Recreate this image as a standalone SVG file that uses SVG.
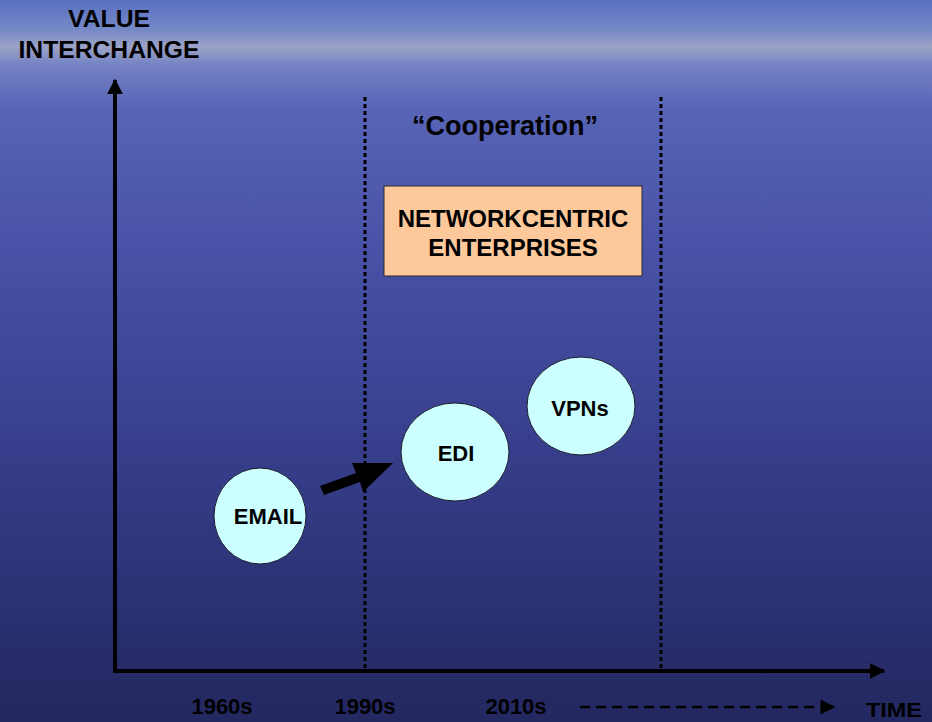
<svg xmlns="http://www.w3.org/2000/svg" width="932" height="722" viewBox="0 0 932 722">
<defs>
<linearGradient id="bg" x1="0" y1="0" x2="0" y2="1">
<stop offset="0" stop-color="#5a70c2"/>
<stop offset="0.04" stop-color="#7488c6"/>
<stop offset="0.065" stop-color="#9ca3c6"/>
<stop offset="0.09" stop-color="#7482c4"/>
<stop offset="0.15" stop-color="#5864b6"/>
<stop offset="0.35" stop-color="#4752a6"/>
<stop offset="0.6" stop-color="#38408e"/>
<stop offset="0.85" stop-color="#2a3070"/>
<stop offset="1" stop-color="#242860"/>
</linearGradient>
<marker id="ah" viewBox="0 0 10 10" refX="9" refY="5" markerWidth="4" markerHeight="4" orient="auto" markerUnits="strokeWidth">
<path d="M0,0 L10,5 L0,10 z" fill="#000"/>
</marker>
<marker id="ahs" viewBox="0 0 10 10" refX="9" refY="5" markerWidth="7" markerHeight="6" orient="auto" markerUnits="strokeWidth">
<path d="M0,0 L10,5 L0,10 z" fill="#000"/>
</marker>
<style>
.t{font-family:"Liberation Sans",Arial,sans-serif;font-weight:bold;fill:#000;text-anchor:middle}
.c{fill:#ccffff;stroke:#1a1a2a;stroke-width:1}
.dot{stroke:#000;stroke-width:3;stroke-dasharray:4 3;fill:none}
</style>
</defs>
<rect width="932" height="722" fill="url(#bg)"/>
<g id="labels">
<text class="t" x="109" y="27" font-size="24" textLength="82" lengthAdjust="spacingAndGlyphs">VALUE</text>
<text class="t" x="109" y="58" font-size="24" textLength="181" lengthAdjust="spacingAndGlyphs">INTERCHANGE</text>
<text class="t" x="505" y="135" font-size="27">“Cooperation”</text>
<text class="t" x="222" y="714" font-size="22">1960s</text>
<text class="t" x="365" y="714" font-size="22">1990s</text>
<text class="t" x="516" y="714" font-size="22">2010s</text>
<text class="t" x="894" y="717" font-size="21" textLength="56" lengthAdjust="spacingAndGlyphs">TIME</text>
</g>
<g id="connectors">
<line x1="115" y1="672" x2="115" y2="80" stroke="#000" stroke-width="4" marker-end="url(#ah)"/>
<line x1="113" y1="671" x2="884" y2="671" stroke="#000" stroke-width="4" marker-end="url(#ah)"/>
<line class="dot" x1="365" y1="97" x2="365" y2="669"/>
<line class="dot" x1="661" y1="97" x2="661" y2="669"/>
<line x1="580" y1="707" x2="834" y2="707" stroke="#000" stroke-width="2.5" stroke-dasharray="10 6" marker-end="url(#ahs)"/>
<polygon points="320,486 356,473 352,463 393,463 363,492 360,482 324,495" fill="#000"/>
</g>
<g id="networkcentric">
<rect x="384" y="186" width="258" height="90" fill="#fdc99b" stroke="#2a2a2a" stroke-width="1"/>
<text class="t" x="513" y="227" font-size="24">NETWORKCENTRIC</text>
<text class="t" x="513" y="256" font-size="24">ENTERPRISES</text>
</g>
<g id="email">
<ellipse class="c" cx="260" cy="516" rx="46" ry="48"/>
<text class="t" x="268" y="524" font-size="22">EMAIL</text>
</g>
<g id="edi">
<ellipse class="c" cx="455" cy="452" rx="54" ry="49"/>
<text class="t" x="456" y="461" font-size="22">EDI</text>
</g>
<g id="vpns">
<ellipse class="c" cx="581" cy="406" rx="54" ry="49"/>
<text class="t" x="580" y="416" font-size="22">VPNs</text>
</g>
</svg>
